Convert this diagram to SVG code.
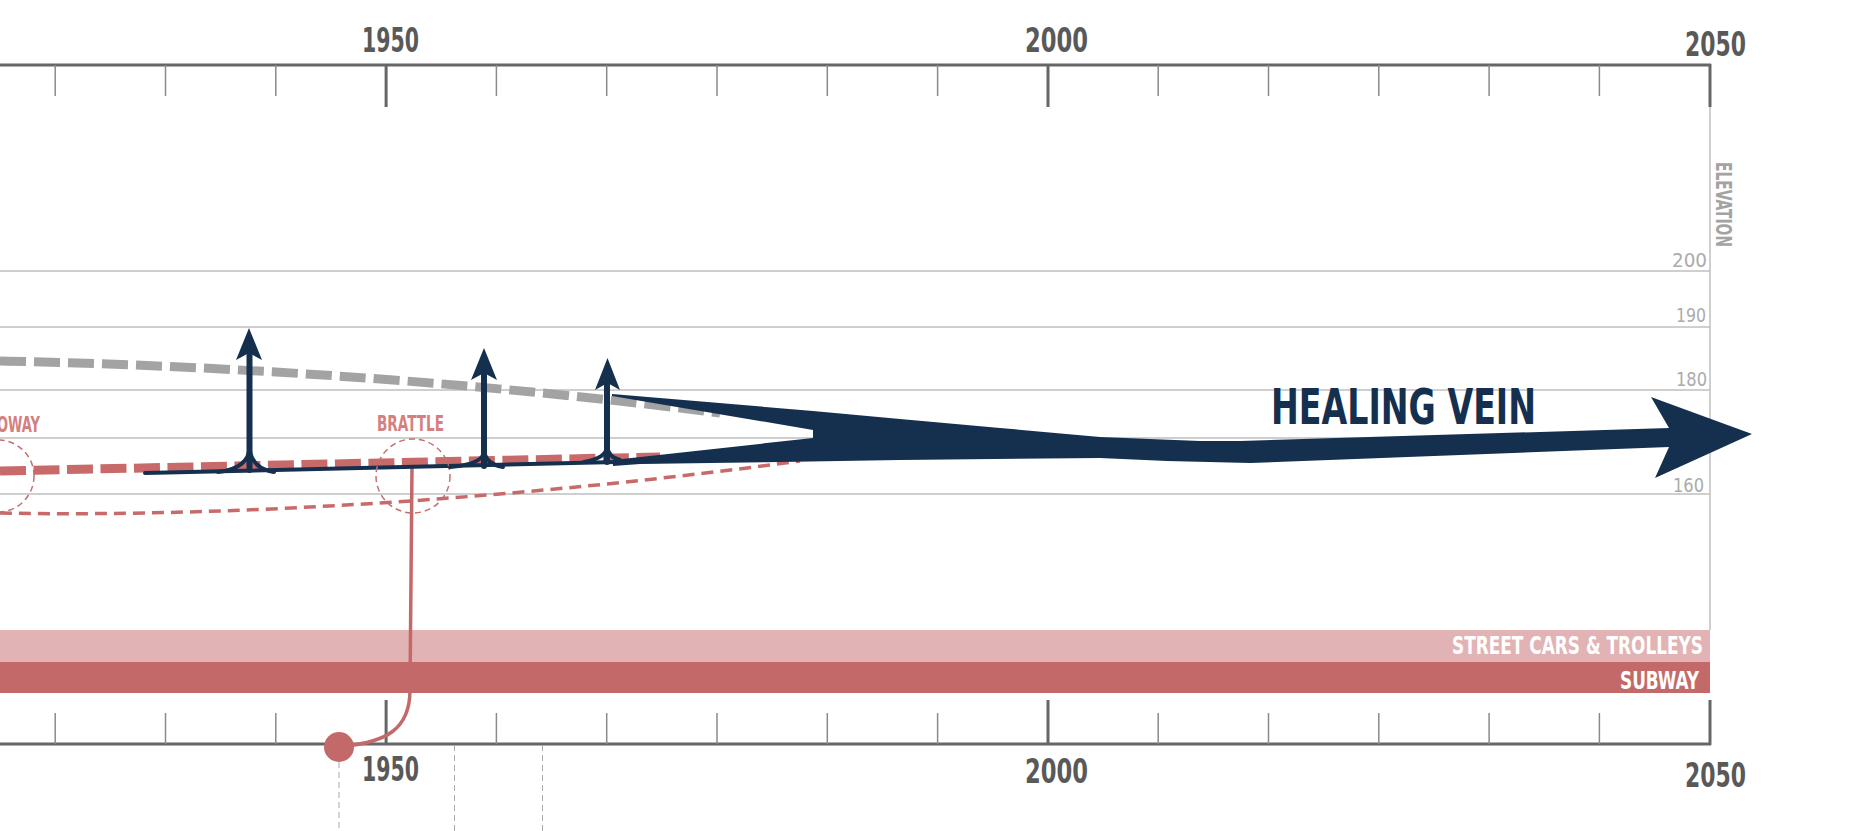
<svg xmlns="http://www.w3.org/2000/svg" width="1857" height="831" viewBox="0 0 1857 831">
<style>
.yr{font-family:"Liberation Sans Narrow","DejaVu Sans Condensed","Liberation Sans",sans-serif;font-weight:bold;font-size:33px;fill:#595959}
.el{font-family:"Liberation Sans Narrow","DejaVu Sans Condensed","Liberation Sans",sans-serif;font-size:19px;fill:#ababab}
.lbl{font-family:"Liberation Sans Narrow","DejaVu Sans Condensed","Liberation Sans",sans-serif;font-weight:bold}
.grid{stroke:#bfbfbf;stroke-width:1.5;fill:none}
.ax{stroke:#666;stroke-width:3;fill:none}
.mt{stroke:#8a8a8a;stroke-width:1.5}
.Mt{stroke:#666;stroke-width:3}
.navy{fill:#15304F}
.nstroke{stroke:#15304F;fill:none;stroke-linecap:round}
.ring{fill:none;stroke:#C27070;stroke-width:1.5;stroke-dasharray:6 4}
.gd{stroke:#aaa;stroke-width:1;stroke-dasharray:6 4}
</style>
<rect width="1857" height="831" fill="#fff"/>

<g id="elevation-grid">
<line class="grid" x1="0" y1="271" x2="1710" y2="271"/>
<line class="grid" x1="0" y1="327" x2="1710" y2="327"/>
<line class="grid" x1="0" y1="390" x2="1710" y2="390"/>
<line class="grid" x1="0" y1="438" x2="1710" y2="438"/>
<line class="grid" x1="0" y1="494" x2="1710" y2="494"/>
<line class="grid" x1="1710" y1="107" x2="1710" y2="630"/>
<text class="el" x="1672" y="267" textLength="35" lengthAdjust="spacingAndGlyphs">200</text>
<text class="el" x="1676" y="322" textLength="30" lengthAdjust="spacingAndGlyphs">190</text>
<text class="el" x="1676" y="386" textLength="31" lengthAdjust="spacingAndGlyphs">180</text>
<text class="el" x="1673" y="492" textLength="31" lengthAdjust="spacingAndGlyphs">160</text>
<text class="lbl" transform="translate(1716,162) rotate(90)" font-size="21" fill="#a3a3a3" textLength="85" lengthAdjust="spacingAndGlyphs">ELEVATION</text>
</g>

<g id="top-axis">
<line class="ax" x1="0" y1="65" x2="1711" y2="65"/>
<line class="mt" x1="55.2" y1="65" x2="55.2" y2="96"/>
<line class="mt" x1="165.5" y1="65" x2="165.5" y2="96"/>
<line class="mt" x1="275.8" y1="65" x2="275.8" y2="96"/>
<line class="Mt" x1="386.1" y1="65" x2="386.1" y2="107"/>
<line class="mt" x1="496.4" y1="65" x2="496.4" y2="96"/>
<line class="mt" x1="606.7" y1="65" x2="606.7" y2="96"/>
<line class="mt" x1="717" y1="65" x2="717" y2="96"/>
<line class="mt" x1="827.3" y1="65" x2="827.3" y2="96"/>
<line class="mt" x1="937.6" y1="65" x2="937.6" y2="96"/>
<line class="Mt" x1="1048" y1="65" x2="1048" y2="107"/>
<line class="mt" x1="1158.2" y1="65" x2="1158.2" y2="96"/>
<line class="mt" x1="1268.5" y1="65" x2="1268.5" y2="96"/>
<line class="mt" x1="1378.8" y1="65" x2="1378.8" y2="96"/>
<line class="mt" x1="1489.1" y1="65" x2="1489.1" y2="96"/>
<line class="mt" x1="1599.4" y1="65" x2="1599.4" y2="96"/>
<line class="Mt" x1="1710" y1="64" x2="1710" y2="107"/>
<text class="yr" x="362" y="52" textLength="57" lengthAdjust="spacingAndGlyphs">1950</text>
<text class="yr" x="1025" y="52" textLength="63" lengthAdjust="spacingAndGlyphs">2000</text>
<text class="yr" x="1685" y="56" textLength="61" lengthAdjust="spacingAndGlyphs">2050</text>
</g>

<g id="bands">
<rect x="0" y="630" width="1710" height="32" fill="#E2B3B4"/>
<rect x="0" y="662" width="1710" height="31" fill="#C4696A"/>
<text class="lbl" x="1452" y="654" font-size="24" fill="#fff" textLength="251" lengthAdjust="spacingAndGlyphs">STREET CARS &amp; TROLLEYS</text>
<text class="lbl" x="1620" y="689" font-size="24" fill="#fff" textLength="79" lengthAdjust="spacingAndGlyphs">SUBWAY</text>
</g>

<g id="bottom-axis">
<line class="ax" x1="0" y1="744" x2="1711" y2="744"/>
<line class="mt" x1="55.2" y1="713" x2="55.2" y2="744"/>
<line class="mt" x1="165.5" y1="713" x2="165.5" y2="744"/>
<line class="mt" x1="275.8" y1="713" x2="275.8" y2="744"/>
<line class="Mt" x1="386.1" y1="700" x2="386.1" y2="744"/>
<line class="mt" x1="496.4" y1="713" x2="496.4" y2="744"/>
<line class="mt" x1="606.7" y1="713" x2="606.7" y2="744"/>
<line class="mt" x1="717" y1="713" x2="717" y2="744"/>
<line class="mt" x1="827.3" y1="713" x2="827.3" y2="744"/>
<line class="mt" x1="937.6" y1="713" x2="937.6" y2="744"/>
<line class="Mt" x1="1048" y1="700" x2="1048" y2="744"/>
<line class="mt" x1="1158.2" y1="713" x2="1158.2" y2="744"/>
<line class="mt" x1="1268.5" y1="713" x2="1268.5" y2="744"/>
<line class="mt" x1="1378.8" y1="713" x2="1378.8" y2="744"/>
<line class="mt" x1="1489.1" y1="713" x2="1489.1" y2="744"/>
<line class="mt" x1="1599.4" y1="713" x2="1599.4" y2="744"/>
<line class="Mt" x1="1710" y1="700" x2="1710" y2="745"/>
<line class="gd" x1="339" y1="762" x2="339" y2="831"/>
<line class="gd" x1="454.5" y1="745" x2="454.5" y2="831"/>
<line class="gd" x1="542.5" y1="745" x2="542.5" y2="831"/>
<text class="yr" x="362" y="781" textLength="57" lengthAdjust="spacingAndGlyphs">1950</text>
<text class="yr" x="1025" y="783" textLength="63" lengthAdjust="spacingAndGlyphs">2000</text>
<text class="yr" x="1685" y="787" textLength="61" lengthAdjust="spacingAndGlyphs">2050</text>
</g>

<g id="connectors">
<path d="M0 361 C250 366 500 385 720 413" fill="none" stroke="#A3A3A3" stroke-width="9" stroke-dasharray="26 8"/>
<path d="M0 471 L660 457" fill="none" stroke="#C86A6A" stroke-width="9" stroke-dasharray="26 7.5"/>
<path d="M0 513 C250 518 550 495 800 461" fill="none" stroke="#C96A6A" stroke-width="3.5" stroke-dasharray="12 7"/>
<path d="M412 466 L410 690 C410 730 385 742 345 746" fill="none" stroke="#C4696A" stroke-width="3.5"/>
<line class="nstroke" x1="145" y1="473" x2="660" y2="461" stroke-width="4"/>
</g>

<g id="station-oway">
<circle class="ring" cx="-2" cy="476" r="36"/>
<text class="lbl" x="-3" y="432" font-size="21" fill="#D4807F" textLength="43" lengthAdjust="spacingAndGlyphs">OWAY</text>
</g>

<g id="station-brattle">
<circle class="ring" cx="413" cy="476" r="37"/>
<text class="lbl" x="377" y="431" font-size="21" fill="#D4807F" textLength="67" lengthAdjust="spacingAndGlyphs">BRATTLE</text>
</g>

<g id="date-marker">
<circle cx="339" cy="747" r="15" fill="#C4696A"/>
</g>

<g id="branch-1">
<path class="nstroke" d="M249.5 470 L249.5 355" stroke-width="6"/>
<path class="nstroke" d="M249.5 446 Q250 468 218 472 M249.5 446 Q250 468 274 472" stroke-width="4"/>
<polygon class="navy" points="249,328 262,360 249,353 236,360"/>
</g>

<g id="branch-2">
<path class="nstroke" d="M484 466 L484 375" stroke-width="6"/>
<path class="nstroke" d="M484 450 Q485 464 450 467 M484 450 Q485 464 503 467" stroke-width="4"/>
<polygon class="navy" points="484,348 497,380 484,373 471,380"/>
</g>

<g id="branch-3">
<path class="nstroke" d="M607 462 L607 385" stroke-width="6"/>
<path class="nstroke" d="M607 446 Q607 458 584 462 M607 446 Q608 457 620 460" stroke-width="4"/>
<polygon class="navy" points="607.5,358 620,390 607.5,383 595,390"/>
</g>

<g id="healing-vein">
<polygon class="navy" points="612,394 813,411 900,419 1000,428 1100,437 1200,441 1240,441 1669,428 1651,397 1752,434 1655,478 1669,447 1250,463 1167,461 1100,458 900,460 780,462 640,464 613,466 613,460 813,438 813,430 612,396"/>
<text class="lbl" x="1271" y="424" font-size="50" fill="#15304F" textLength="265" lengthAdjust="spacingAndGlyphs">HEALING VEIN</text>
</g>
</svg>
